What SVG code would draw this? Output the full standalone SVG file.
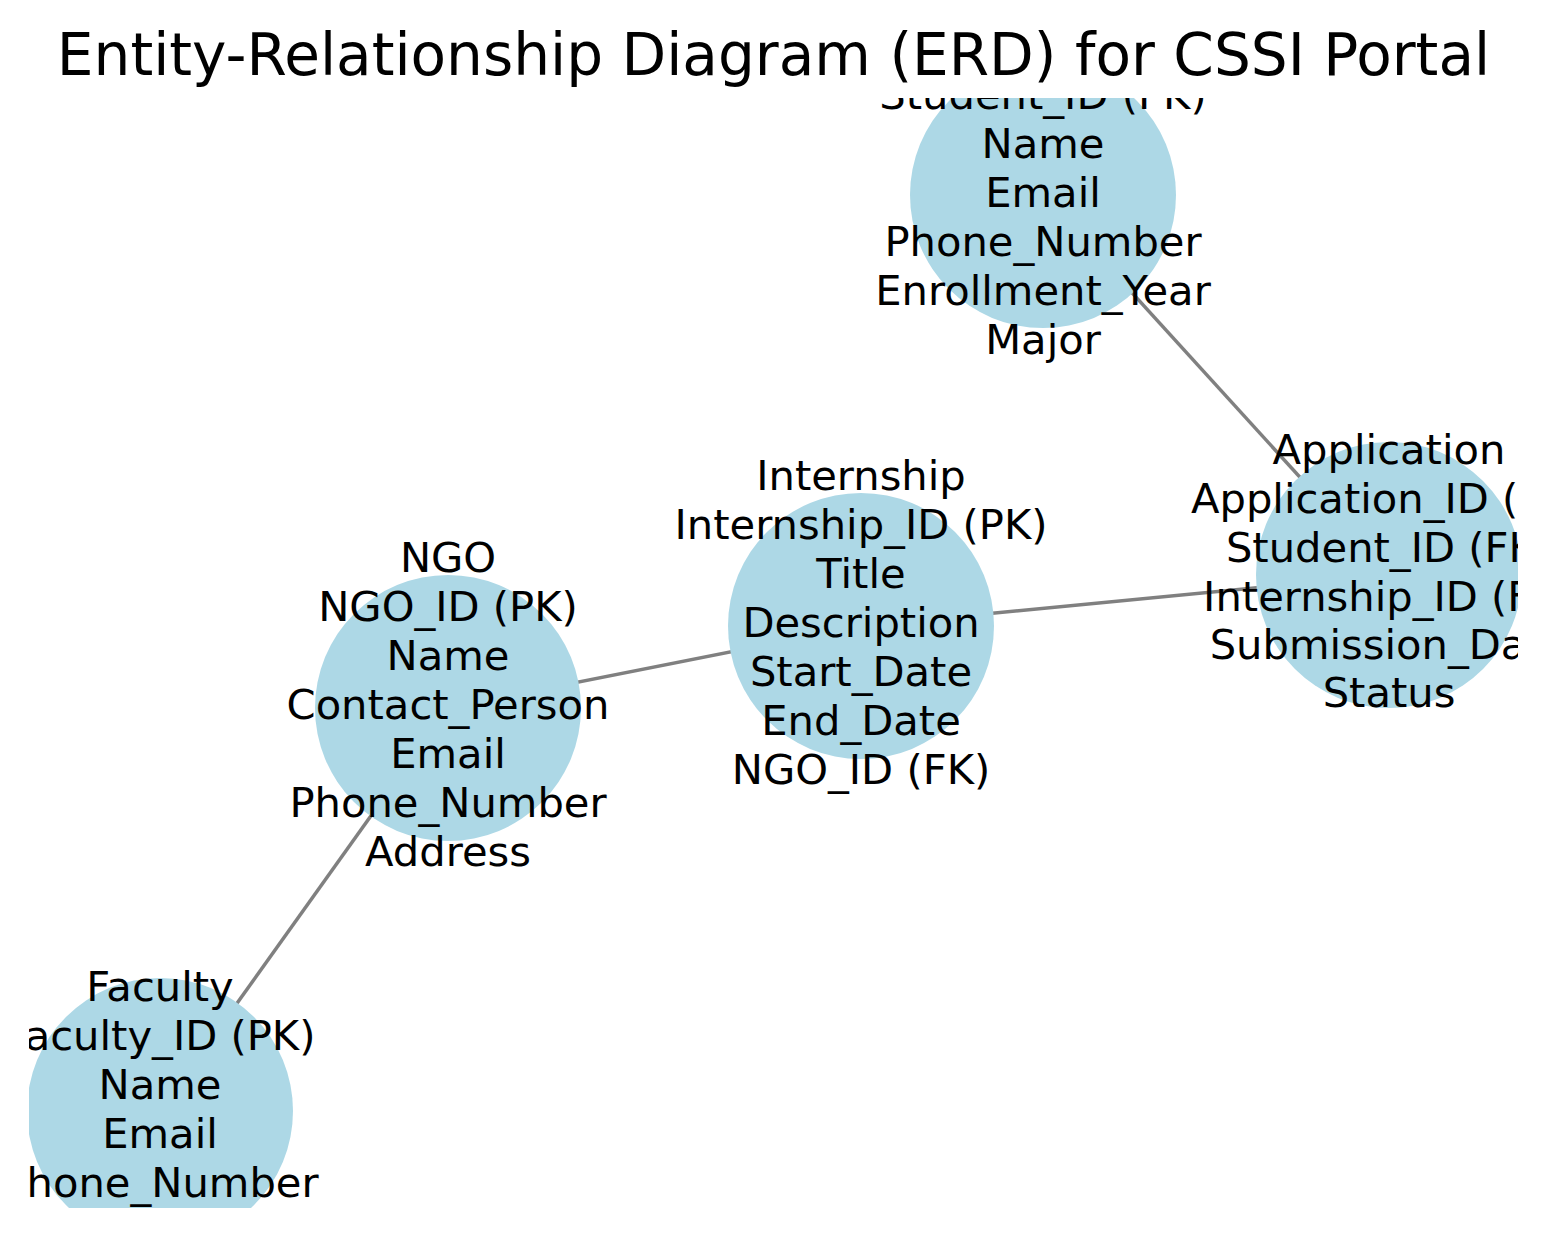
<svg xmlns="http://www.w3.org/2000/svg" width="1548" height="1238" viewBox="0 0 1548 1238">
<style>
.node{fill:#ADD8E6;}
.lbl{font-family:"DejaVu Sans",sans-serif;font-size:41.67px;fill:#000;text-anchor:middle;}
.edge{stroke:#808080;stroke-width:3.5;fill:none;}
.title{font-family:"DejaVu Sans",sans-serif;font-size:58.1px;fill:#000;text-anchor:middle;}
</style>
<defs>
<clipPath id="ax"><rect x="29" y="98" width="1489" height="1110"/></clipPath>
</defs>
<rect width="1548" height="1238" fill="#fff"/>
<g clip-path="url(#ax)">
<g id="connectors">
<line class="edge" x1="1043" y1="195" x2="1389" y2="575"/>
<line class="edge" x1="861" y1="626" x2="1389" y2="575"/>
<line class="edge" x1="448" y1="708" x2="861" y2="626"/>
<line class="edge" x1="448" y1="708" x2="160" y2="1111"/>
</g>
<g id="student">
<circle class="node" cx="1043" cy="195" r="133"/>
<text class="lbl" x="1043" y="109">Student_ID (PK)</text>
<text class="lbl" x="1043" y="158">Name</text>
<text class="lbl" x="1043" y="207">Email</text>
<text class="lbl" x="1043" y="256">Phone_Number</text>
<text class="lbl" x="1043" y="305">Enrollment_Year</text>
<text class="lbl" x="1043" y="354">Major</text>
</g>
<g id="application">
<circle class="node" cx="1389" cy="575" r="133"/>
<text class="lbl" x="1389" y="464">Application</text>
<text class="lbl" x="1389" y="513">Application_ID (PK)</text>
<text class="lbl" x="1389" y="562">Student_ID (FK)</text>
<text class="lbl" x="1389" y="611">Internship_ID (FK)</text>
<text class="lbl" x="1389" y="659">Submission_Date</text>
<text class="lbl" x="1389" y="707">Status</text>
</g>
<g id="internship">
<circle class="node" cx="861" cy="626" r="133"/>
<text class="lbl" x="861" y="490">Internship</text>
<text class="lbl" x="861" y="539">Internship_ID (PK)</text>
<text class="lbl" x="861" y="588">Title</text>
<text class="lbl" x="861" y="637">Description</text>
<text class="lbl" x="861" y="686">Start_Date</text>
<text class="lbl" x="861" y="735">End_Date</text>
<text class="lbl" x="861" y="784">NGO_ID (FK)</text>
</g>
<g id="ngo">
<circle class="node" cx="448" cy="708" r="133"/>
<text class="lbl" x="448" y="572">NGO</text>
<text class="lbl" x="448" y="621">NGO_ID (PK)</text>
<text class="lbl" x="448" y="670">Name</text>
<text class="lbl" x="448" y="719">Contact_Person</text>
<text class="lbl" x="448" y="768">Email</text>
<text class="lbl" x="448" y="817">Phone_Number</text>
<text class="lbl" x="448" y="866">Address</text>
</g>
<g id="faculty">
<circle class="node" cx="160" cy="1111" r="133"/>
<text class="lbl" x="160" y="1001">Faculty</text>
<text class="lbl" x="160" y="1050">Faculty_ID (PK)</text>
<text class="lbl" x="160" y="1099">Name</text>
<text class="lbl" x="160" y="1148">Email</text>
<text class="lbl" x="160" y="1197">Phone_Number</text>
</g>
</g>
<text class="title" x="773.5" y="75">Entity-Relationship Diagram (ERD) for CSSI Portal</text>
</svg>
